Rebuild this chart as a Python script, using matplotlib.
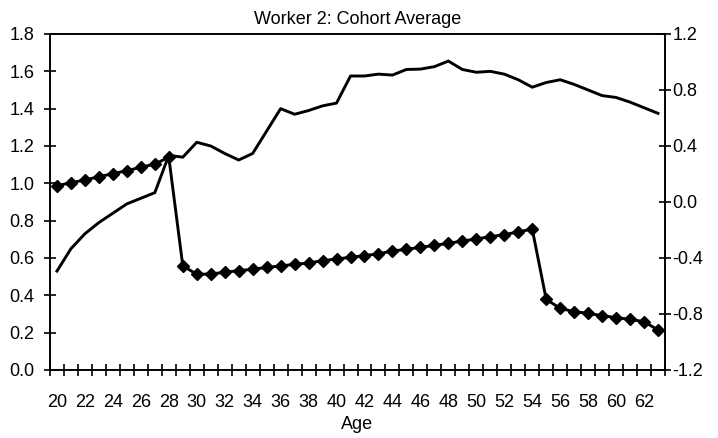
import numpy as np
import matplotlib
matplotlib.use("Agg")
from matplotlib import pyplot as plt
from matplotlib.ticker import FixedLocator, MultipleLocator, FormatStrFormatter

plt.rcParams['font.family'] = ['Liberation Sans', 'DejaVu Sans']

ages = list(range(20, 64))

# plain line, left axis
cohort_left = [0.53, 0.65, 0.73, 0.79, 0.84, 0.89, 0.92, 0.95, 1.15, 1.14,
               1.22, 1.20, 1.16, 1.125, 1.16, 1.28, 1.40, 1.37, 1.39, 1.415,
               1.43, 1.575, 1.575, 1.585, 1.58, 1.61, 1.612, 1.625, 1.655, 1.61,
               1.595, 1.60, 1.585, 1.555, 1.515, 1.54, 1.555, 1.53, 1.50, 1.47,
               1.46, 1.435, 1.405, 1.375]

# diamond line, right axis
cohort_right = [0.116, 0.138, 0.157, 0.181, 0.202, 0.224, 0.248, 0.271, 0.32, -0.455,
                -0.517, -0.514, -0.502, -0.49, -0.481, -0.467, -0.457, -0.445, -0.436, -0.419,
                -0.407, -0.395, -0.383, -0.37, -0.35, -0.338, -0.324, -0.31, -0.295, -0.279,
                -0.264, -0.248, -0.233, -0.214, -0.193, -0.695, -0.76, -0.783, -0.795, -0.812,
                -0.826, -0.838, -0.855, -0.914]

x = np.arange(len(ages))

fig = plt.figure(figsize=(7.18, 4.38), dpi=100)
ax = fig.add_axes([50/718, 1-370/438, 615/718, 336/438])
ax2 = ax.twinx()

ax.plot(x, cohort_left, color='black', lw=2.1)
ax2.plot(x, cohort_right, color='black', lw=2.1, marker='D', markersize=6)

ax.set_xlim(-0.5, len(ages) - 0.5)
ax.set_ylim(0, 1.8)
ax2.set_ylim(-1.2, 1.2)

ax.yaxis.set_major_locator(MultipleLocator(0.2))
ax.yaxis.set_major_formatter(FormatStrFormatter('%.1f'))
ax2.yaxis.set_major_locator(MultipleLocator(0.4))
ax2.yaxis.set_major_formatter(FormatStrFormatter('%.1f'))

# category axis: labels every second age, ticks between categories
ax.xaxis.set_major_locator(FixedLocator(x[::2]))
ax.set_xticklabels([str(a) for a in ages[::2]])
ax.xaxis.set_minor_locator(FixedLocator(np.arange(-0.5, len(ages), 1)))
ax.tick_params(axis='x', which='major', length=0, labelsize=13, pad=17)
ax.tick_params(axis='x', which='minor', direction='inout', length=9, width=1.2)
ax.tick_params(axis='y', direction='inout', length=9, width=1.2, labelsize=13, pad=6.5)
ax2.tick_params(axis='y', direction='inout', length=9, width=1.2, labelsize=13, pad=1)

for a in (ax, ax2):
    for s in a.spines.values():
        s.set_linewidth(1.2)

ax.set_xlabel("Age", fontsize=13, labelpad=4)
ax.set_title("Worker 2: Cohort Average", fontsize=13, pad=7.5)

fig.savefig("out.png", dpi=100)
